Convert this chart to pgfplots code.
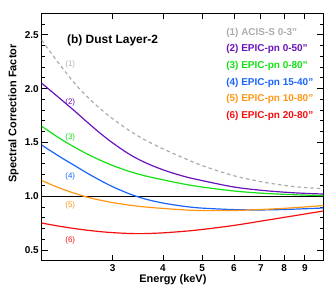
\documentclass[border=0pt]{standalone}
\usepackage{fontspec}
\setmainfont{Liberation Sans}
\usepackage{pgfplots}
\pgfplotsset{compat=1.18}
\definecolor{cgray}{RGB}{172,172,172}
\definecolor{cpurple}{RGB}{105,20,185}
\definecolor{cgreen}{RGB}{20,225,20}
\definecolor{cblue}{RGB}{25,100,250}
\definecolor{corange}{RGB}{255,150,20}
\definecolor{cred}{RGB}{245,15,15}
\newcommand{\dq}{\symbol{"22}}
\begin{document}
\begin{tikzpicture}
\useasboundingbox (0,0) rectangle (336bp,288bp);
\begin{axis}[
 at={(41.7bp,27.3bp)}, anchor=south west,
 scale only axis, width=281.6bp, height=247.4bp,
 xmode=log, xmin=2, xmax=10, ymin=0.4, ymax=2.7,
 xtick={3,4,5,6,7,8,9}, xticklabels={3,4,5,6,7,8,9},
 minor xtick={},
 ytick={0.5,1.0,1.5,2.0,2.5}, yticklabels={0.5,1.0,1.5,2.0,2.5},
 minor ytick={0.4,0.6,0.7,0.8,0.9,1.1,1.2,1.3,1.4,1.6,1.7,1.8,1.9,2.1,2.2,2.3,2.4,2.6,2.7},
 tick align=inside, major tick length=6bp, minor tick length=3bp,
 tick style={black, line width=0.8bp},
 axis line style={line width=0.8bp},
 /pgf/number format/assume math mode=true,
 ticklabel style={font=\bfseries\fontsize{10}{12}\selectfont},
 yticklabel style={xshift=0.5bp},
 xlabel={Energy (keV)}, ylabel={Spectral Correction Factor},
 label style={font=\bfseries\fontsize{11}{13}\selectfont},
 xlabel style={at={(axis description cs:0.466,-0.078)}, anchor=center},
 ylabel style={at={(axis description cs:-0.1,0.595)}, anchor=center},
 clip=true,
 every axis plot/.append style={smooth, tension=0.55},
]
\addplot[cgray, line width=1.2bp, dash pattern=on 3.5bp off 3bp] coordinates {
 (2,2.45)(2.2,2.24)(2.4,2.06)(2.6,1.92)(2.8,1.81)(3,1.72)(3.3,1.61)(3.6,1.525)(4,1.44)(4.5,1.355)(5,1.285)(6,1.19)(7,1.135)(8,1.10)(9,1.08)(10,1.07)};
\addplot[black, line width=0.8bp] coordinates {(2,1)(10,1)};
\addplot[cpurple, line width=1.2bp] coordinates {
 (2,2.05)(2.2,1.92)(2.4,1.80)(2.6,1.685)(2.8,1.582)(3,1.495)(3.3,1.39)(3.6,1.315)(4,1.245)(4.5,1.185)(5,1.145)(6,1.085)(7,1.055)(8,1.037)(9,1.026)(10,1.02)};
\addplot[cgreen, line width=1.2bp] coordinates {
 (2,1.65)(2.2,1.545)(2.4,1.46)(2.6,1.39)(2.8,1.333)(3,1.285)(3.3,1.23)(3.6,1.19)(4,1.152)(4.5,1.113)(5,1.085)(6,1.048)(7,1.028)(8,1.017)(9,1.01)(10,1.005)};
\addplot[cblue, line width=1.2bp] coordinates {
 (2,1.475)(2.2,1.375)(2.4,1.29)(2.6,1.212)(2.8,1.145)(3,1.088)(3.3,1.022)(3.6,0.975)(4,0.936)(4.5,0.906)(5,0.889)(6,0.875)(7,0.872)(8,0.876)(9,0.883)(10,0.89)};
\addplot[corange, line width=1.2bp] coordinates {
 (2,1.145)(2.2,1.08)(2.4,1.03)(2.6,0.99)(2.8,0.962)(3,0.94)(3.3,0.917)(3.6,0.90)(4,0.886)(4.5,0.873)(5,0.866)(6,0.867)(7,0.876)(8,0.887)(9,0.90)(10,0.913)};
\addplot[cred, line width=1.2bp] coordinates {
 (2,0.75)(2.2,0.722)(2.4,0.70)(2.6,0.683)(2.8,0.67)(3,0.661)(3.3,0.653)(3.6,0.652)(4,0.659)(4.5,0.673)(5,0.69)(6,0.728)(7,0.768)(8,0.803)(9,0.834)(10,0.862)};
% title
\node[anchor=west, inner sep=0pt, font=\bfseries\fontsize{12}{14}\selectfont] at (axis cs:2.31,2.45) {(b) Dust Layer-2};
% legend text
\begin{scope}[every node/.style={anchor=west, inner sep=0pt, font=\bfseries\fontsize{10}{12}\selectfont}]
\node[text=cgray] at (axis cs:5.74,2.52) {(1) ACIS-S 0-3\dq};
\node[text=cpurple] at (axis cs:5.74,2.365) {(2) EPIC-pn 0-50\dq};
\node[text=cgreen] at (axis cs:5.74,2.21) {(3) EPIC-pn 0-80\dq};
\node[text=cblue] at (axis cs:5.74,2.055) {(4) EPIC-pn 15-40\dq};
\node[text=corange] at (axis cs:5.74,1.90) {(5) EPIC-pn 10-80\dq};
\node[text=cred] at (axis cs:5.74,1.745) {(6) EPIC-pn 20-80\dq};
\end{scope}
% curve labels
\begin{scope}[every node/.style={anchor=center, inner sep=0pt, font=\fontsize{8}{9}\selectfont}]
\node[text=cgray] at (axis cs:2.354,2.225) {(1)};
\node[text=cpurple] at (axis cs:2.354,1.872) {(2)};
\node[text=cgreen] at (axis cs:2.354,1.547) {(3)};
\node[text=cblue] at (axis cs:2.354,1.182) {(4)};
\node[text=corange] at (axis cs:2.354,0.917) {(5)};
\node[text=cred] at (axis cs:2.354,0.592) {(6)};
\end{scope}
\end{axis}
\end{tikzpicture}
\end{document}
